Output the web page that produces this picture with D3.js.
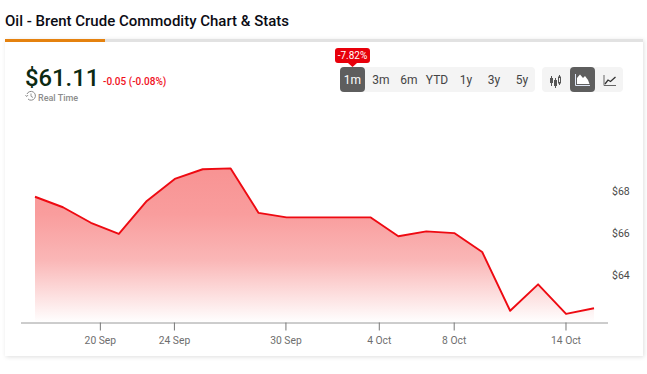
<!DOCTYPE html>
<html>
<head>
<meta charset="utf-8">
<script src="https://cdn.jsdelivr.net/npm/d3@7/dist/d3.min.js"></script>
<style>
    html, body { margin: 0; padding: 0; background: #fff; overflow: hidden; }
    svg { display: block; font-family: Roboto, sans-serif; }
</style>
</head>
<body>
<div id="chart"></div>
<script>
// Close price per trading day
const prices = [67.75, 67.25, 66.51, 65.98, 67.55, 68.6, 69.06, 69.1, 66.98, 66.77, 66.77,
    66.77, 66.77, 65.87, 66.1, 66.02, 65.12, 62.32, 63.58, 62.17, 62.44];

// Tick labels sit on fractional trading-day positions (the site's axis is not index aligned)
const xTickLabels = ['20 Sep', '24 Sep', '30 Sep', '4 Oct', '8 Oct', '14 Oct'];
const xTickIndexes = [2.32, 4.97, 8.96, 12.3, 14.98, 18.98];
const yTickValues = [64, 66, 68];

const rangeLabels = ['1m', '3m', '6m', 'YTD', '1y', '3y', '5y'];
const rangeCenters = [352.5, 381, 409, 437, 466, 494, 522];

const width = 647, height = 374;
const plot = { left: 35, right: 594, axisLeft: 21, axisRight: 608, baseline: 322.5 };

const svg = d3.select('#chart').append('svg')
    .attr('width', width)
    .attr('height', height);

const defs = svg.append('defs');

const shadow = defs.append('filter').attr('id', 'cardShadow')
    .attr('x', '-5%').attr('y', '-5%').attr('width', '110%').attr('height', '110%');
shadow.append('feDropShadow')
    .attr('dx', 1).attr('dy', 1).attr('stdDeviation', 2)
    .attr('flood-color', '#000').attr('flood-opacity', 0.13);

const fade = defs.append('linearGradient').attr('id', 'areaFade')
    .attr('gradientUnits', 'userSpaceOnUse')
    .attr('x1', 0).attr('x2', 0).attr('y1', 168).attr('y2', plot.baseline);
fade.append('stop').attr('offset', '0%').attr('stop-color', '#f89393');
fade.append('stop').attr('offset', '30%').attr('stop-color', '#f99d9d');
fade.append('stop').attr('offset', '60%').attr('stop-color', '#fab7b7');
fade.append('stop').attr('offset', '100%').attr('stop-color', '#ffffff');

// Title and card
svg.append('text')
    .attr('x', 5).attr('y', 26)
    .attr('fill', '#0b0b14')
    .style('font-size', '15px')
    .style('font-weight', 500)
    .text('Oil - Brent Crude Commodity Chart & Stats');

svg.append('rect')
    .attr('x', 5).attr('y', 39)
    .attr('width', 638).attr('height', 317)
    .attr('fill', '#fff')
    .attr('filter', 'url(#cardShadow)');
svg.append('rect').attr('x', 5).attr('y', 39).attr('width', 638).attr('height', 3).attr('fill', '#e2e2e2');
svg.append('rect').attr('x', 5).attr('y', 39).attr('width', 100).attr('height', 3).attr('fill', '#e5820f');

// Price header
svg.append('text')
    .attr('x', 25).attr('y', 86)
    .attr('fill', '#0c2a12')
    .style('font-size', '23.8px')
    .style('font-weight', 500)
    .text('$61.11');
svg.append('text')
    .attr('x', 103).attr('y', 85)
    .attr('fill', '#f0101c')
    .style('font-size', '10px')
    .style('font-weight', 500)
    .text('-0.05 (-0.08%)');

const clock = svg.append('g')
    .attr('transform', 'translate(31,96)')
    .attr('fill', 'none')
    .attr('stroke', '#8a8a8a');
clock.append('path').attr('d', 'M-4,-2A4.4,4.4 0 1 1 -3,3').attr('stroke-width', 1);
clock.append('path').attr('d', 'M0,-2.5V0.3L2,1.5').attr('stroke-width', 0.9);
clock.append('path').attr('d', 'M-5.5,-1L-4.4,0.6L-2.9,-1').attr('stroke-width', 0.9);
svg.append('text')
    .attr('x', 38).attr('y', 100.5)
    .attr('fill', '#8c8c8c')
    .style('font-size', '9px')
    .style('font-weight', 500)
    .text('Real Time');

// Range buttons
svg.append('rect').attr('x', 340).attr('y', 67).attr('width', 195).attr('height', 25).attr('rx', 4).attr('fill', '#f4f4f4');
svg.append('rect').attr('x', 340).attr('y', 67).attr('width', 25).attr('height', 25).attr('rx', 4).attr('fill', '#5e5e5e');

svg.selectAll('.range-label')
    .data(rangeLabels)
    .join('text')
    .attr('class', 'range-label')
    .attr('x', (d, i) => rangeCenters[i])
    .attr('y', 84)
    .attr('text-anchor', 'middle')
    .attr('fill', d => d === '1m' ? '#fff' : '#444')
    .style('font-size', '12px')
    .text(d => d);

// Change badge above the active button
svg.append('path')
    .attr('d', 'M338,48H367a3,3 0 0 1 3,3V60a3,3 0 0 1 -3,3H357L352.5,67L348,63H338a3,3 0 0 1 -3,-3V51a3,3 0 0 1 3,-3Z')
    .attr('fill', '#e8000b');
svg.append('text')
    .attr('x', 352.5).attr('y', 59)
    .attr('text-anchor', 'middle')
    .attr('fill', '#fff')
    .style('font-size', '10px')
    .text('-7.82%');

// Chart type buttons
svg.append('rect').attr('x', 542).attr('y', 67).attr('width', 81).attr('height', 25).attr('rx', 4).attr('fill', '#f4f4f4');
svg.append('rect').attr('x', 570).attr('y', 67).attr('width', 25).attr('height', 25).attr('rx', 4).attr('fill', '#5e5e5e');

// candlestick icon
const candles = svg.append('g').attr('stroke', '#555').attr('fill', '#555').attr('stroke-width', 1);
candles.append('path').attr('d', 'M551.5,76V86M555.5,78V88M559.5,75V85').attr('fill', 'none');
candles.append('rect').attr('x', 550).attr('y', 78).attr('width', 3).attr('height', 5).attr('stroke', 'none');
candles.append('rect').attr('x', 554).attr('y', 80).attr('width', 3).attr('height', 6).attr('stroke', 'none');
candles.append('rect').attr('x', 558.5).attr('y', 77).attr('width', 2).attr('height', 6).attr('stroke', '#555').attr('fill', '#f4f4f4');

// area icon
svg.append('path').attr('d', 'M575.5,74V85.5H590').attr('fill', 'none').attr('stroke', '#dfe6f5').attr('stroke-width', 1);
svg.append('path').attr('d', 'M577,84V78L580,74.5L583,78L585,76L588,80L589.5,84Z').attr('fill', '#fff');

// line icon
svg.append('path').attr('d', 'M604,75V85.5H616').attr('fill', 'none').attr('stroke', '#666').attr('stroke-width', 1);
svg.append('path').attr('d', 'M605,84L608,80L610.5,81.5L615.5,77').attr('fill', 'none').attr('stroke', '#333').attr('stroke-width', 1.3);

// Scales
const xScale = d3.scaleLinear()
    .domain([0, prices.length - 1])
    .range([plot.left, plot.right]);

const yScale = d3.scaleLinear()
    .domain([64, 68])
    .range([275.5, 191.5]);

// Area and line
const area = d3.area()
    .x((d, i) => xScale(i))
    .y0(plot.baseline)
    .y1(d => yScale(d));

const line = d3.line()
    .x((d, i) => xScale(i))
    .y(d => yScale(d));

svg.append('path')
    .datum(prices)
    .attr('d', area)
    .attr('fill', 'url(#areaFade)');

svg.append('path')
    .datum(prices)
    .attr('d', line)
    .attr('fill', 'none')
    .attr('stroke', '#ee0a12')
    .attr('stroke-width', 1.9)
    .attr('stroke-linejoin', 'round');

// X axis
const xAxisG = svg.append('g')
    .attr('transform', `translate(0,${plot.baseline})`)
    .call(d3.axisBottom(xScale)
        .tickValues(xTickIndexes)
        .tickFormat((d, i) => xTickLabels[i])
        .tickSize(8)
        .tickSizeOuter(0)
        .tickPadding(6));

xAxisG.select('.domain')
    .attr('d', `M${plot.axisLeft},0.5H${plot.axisRight}`)
    .attr('stroke', '#9a9a9a')
    .attr('stroke-width', 1);
xAxisG.selectAll('line').attr('stroke', '#777');
xAxisG.selectAll('text')
    .attr('fill', '#6e6e6e')
    .style('font-family', 'Roboto, sans-serif')
    .style('font-size', '10.3px');

// Y axis labels only
const yAxisG = svg.append('g')
    .attr('transform', 'translate(612,0)')
    .call(d3.axisRight(yScale)
        .tickValues(yTickValues)
        .tickFormat(d => `$${d}`)
        .tickSize(0)
        .tickPadding(0));

yAxisG.select('.domain').remove();
yAxisG.selectAll('text')
    .attr('fill', '#4a4a4a')
    .style('font-family', 'Roboto, sans-serif')
    .style('font-size', '10.5px');
</script>
</body>
</html>
